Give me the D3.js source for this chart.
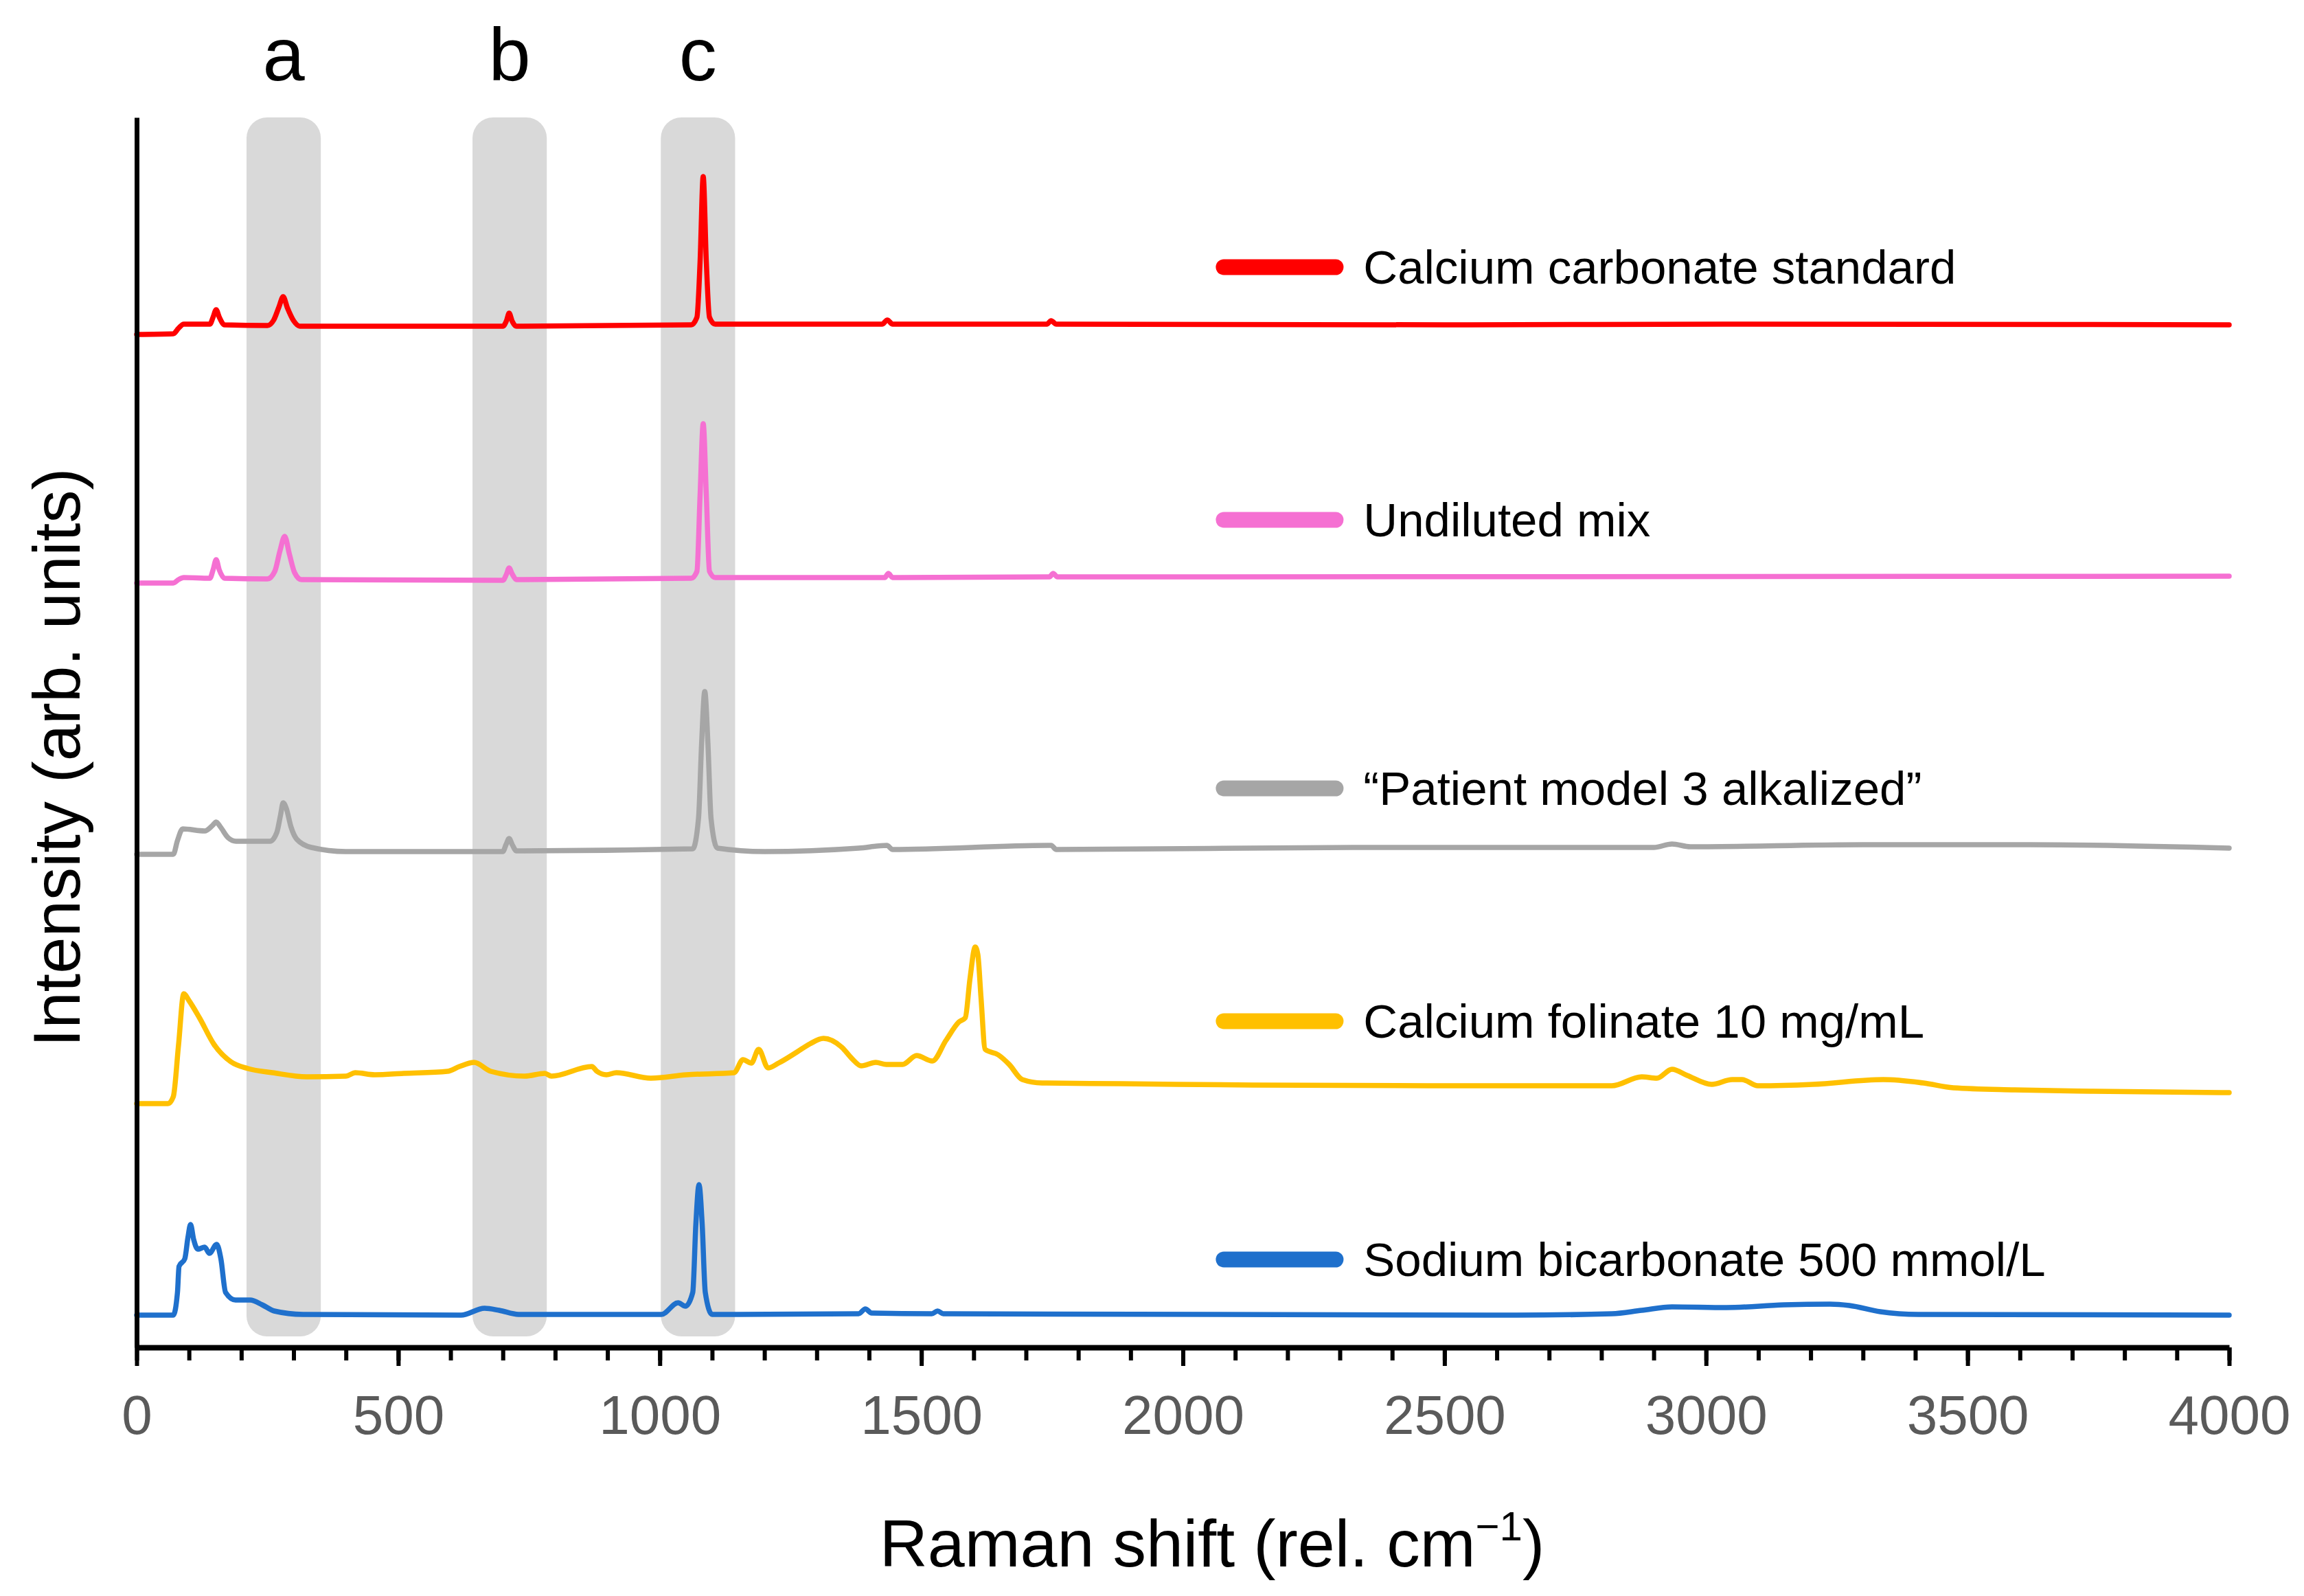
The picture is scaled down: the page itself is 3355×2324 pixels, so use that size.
<!DOCTYPE html>
<html>
<head>
<meta charset="utf-8">
<script src="https://cdn.jsdelivr.net/npm/d3@7"></script>
<style>
  html, body { margin: 0; padding: 0; background: #ffffff; }
  svg { display: block; }
  text { font-family: "Liberation Sans", Arial, Helvetica, sans-serif; }
</style>
</head>
<body>
<svg id="chart" width="3355" height="2324"></svg>
<script>
// ---------------- DATA ----------------
const seriesNames = [
  "Calcium carbonate standard",
  "Undiluted mix",
  "\u201CPatient model 3 alkalized\u201D",
  "Calcium folinate 10 mg/mL",
  "Sodium bicarbonate 500 mmol/L"
];
const seriesColors = ["#ff0000", "#f570d2", "#a6a6a6", "#ffc000", "#1f70cc"];

// [Raman shift, intensity (arb. units, stacked with offsets)]
const calciumCarbonate = [[0,1475],[70,1476],[80,1484],[90,1490],[140,1490],[146,1500],[152,1511],[158,1500],[168,1489],[250,1488],[262,1496],[272,1515],[280,1530],[288,1514],[300,1495],[312,1487],[700,1487],[707,1495],[712,1506],[718,1494],[726,1487],[1060,1489],[1071,1500],[1077,1580],[1083,1705],[1089,1580],[1095,1500],[1106,1490],[1425,1490],[1435,1496],[1445,1490],[1740,1490],[1748,1495],[1758,1490],[2500,1489],[3080,1490],[4000,1489]];
const undilutedMix = [[0,1113],[70,1113],[80,1118],[90,1121],[140,1120],[146,1132],[152,1147],[158,1132],[168,1120],[250,1119],[264,1130],[274,1160],[283,1181],[292,1155],[302,1128],[315,1118],[700,1117],[707,1126],[712,1135],[718,1126],[726,1118],[1060,1120],[1071,1130],[1077,1240],[1083,1345],[1089,1240],[1095,1130],[1106,1121],[1430,1121],[1437,1127],[1445,1121],[1745,1122],[1752,1127],[1760,1122],[4000,1123]];
const patientModel3 = [[0,718],[70,718],[78,738],[88,755],[130,752],[145,760],[152,765],[160,758],[175,742],[190,737],[255,737],[268,750],[275,775],[280,793],[286,785],[295,758],[306,740],[334,728],[400,722],[700,722],[706,732],[712,741],[718,732],[726,723],[1063,726],[1074,770],[1080,880],[1086,955],[1092,880],[1098,770],[1110,727],[1200,722],[1380,727],[1434,731],[1445,725],[1748,731],[1758,725],[2330,728],[2900,728],[2935,733],[2970,729],[3300,732],[3620,732],[4000,727]];
const calciumFolinate = [[0,355],[60,355],[70,365],[80,440],[90,515],[100,505],[120,480],[148,441],[180,416],[213,406],[260,400],[325,394],[400,395],[418,400],[455,397],[510,399],[594,402],[617,409],[645,415],[677,402],[742,395],[780,399],[793,395],[870,409],[880,402],[898,397],[917,400],[983,392],[1051,397],[1142,400],[1159,419],[1175,414],[1189,434],[1207,407],[1227,414],[1262,430],[1287,442],[1313,450],[1348,437],[1368,420],[1385,410],[1413,415],[1433,412],[1464,412],[1491,425],[1521,417],[1547,447],[1572,474],[1584,480],[1593,537],[1603,583],[1608,572],[1614,510],[1622,434],[1647,426],[1668,412],[1693,390],[1731,385],[1882,384],[2133,382],[2468,381],[2820,381],[2877,394],[2906,392],[2935,405],[2964,396],[3011,383],[3050,390],[3069,390],[3099,381],[3204,383],[3339,390],[3416,385],[3473,378],[3590,375],[3735,373],[4000,371]];
const sodiumBicarbonate = [[0,47],[70,47],[78,80],[81,118],[92,129],[98,160],[103,179],[109,157],[117,143],[130,146],[139,137],[153,150],[161,129],[170,80],[189,69],[217,69],[240,62],[263,53],[318,48],[620,47],[665,57],[693,54],[730,48],[1003,48],[1035,65],[1049,60],[1063,80],[1069,180],[1075,237],[1081,180],[1087,80],[1100,48],[1380,49],[1393,56],[1405,50],[1520,49],[1531,53],[1542,49],[2638,47],[2820,49],[2877,54],[2935,59],[3039,58],[3149,62],[3237,63],[3274,61],[3333,52],[3406,48],[4000,47]];
const seriesData = [calciumCarbonate, undilutedMix, patientModel3, calciumFolinate, sodiumBicarbonate];

// legend anchor heights (intensity units)
const legendLevels = [1573, 1205, 814, 475, 128];

// highlighted bands (Raman shift ranges) and their labels
const bandLabels = ["a", "b", "c"];
const bandRanges = [[210, 352], [642, 784], [1002, 1144]];
const bandIntensity = [16, 1791];

const xMajorTicks = [0, 500, 1000, 1500, 2000, 2500, 3000, 3500, 4000];
const xMinorTicks = d3.range(0, 4001, 100);

// ---------------- LAYOUT ----------------
const svg = d3.select("#chart");
const plot = { left: 199, right: 3246, top: 171, bottom: 1962 };

const x = d3.scaleLinear().domain([0, 4000]).range([plot.left, plot.right]);
const y = d3.scaleLinear().domain([0, 1791]).range([plot.bottom, plot.top]);

// bands
svg.append("g").selectAll("rect").data(bandRanges).join("rect")
  .attr("x", d => x(d[0]))
  .attr("width", d => x(d[1]) - x(d[0]))
  .attr("y", y(bandIntensity[1]))
  .attr("height", y(bandIntensity[0]) - y(bandIntensity[1]))
  .attr("rx", 30).attr("ry", 30)
  .attr("fill", "#d9d9d9");

// band labels
svg.append("g").selectAll("text").data(bandRanges).join("text")
  .attr("x", d => x((d[0] + d[1]) / 2))
  .attr("y", 117)
  .attr("text-anchor", "middle")
  .attr("font-size", 110)
  .attr("fill", "#000")
  .text((d, i) => bandLabels[i]);

// spectra
const line = d3.line().x(d => x(d[0])).y(d => y(d[1])).curve(d3.curveMonotoneX);
svg.append("g").selectAll("path").data(seriesData).join("path")
  .attr("d", line)
  .attr("fill", "none")
  .attr("stroke", (d, i) => seriesColors[i])
  .attr("stroke-width", 7.5)
  .attr("stroke-linejoin", "round")
  .attr("stroke-linecap", "round");

// x axis: minor ticks
const axMinor = svg.append("g").attr("transform", `translate(0,${plot.bottom})`)
  .call(d3.axisBottom(x).tickValues(xMinorTicks).tickFormat("").tickSize(19).tickSizeOuter(0));
axMinor.select(".domain").remove();
axMinor.selectAll(".tick line").attr("stroke", "#000").attr("stroke-width", 6);

// x axis: major ticks + labels
const axMajor = svg.append("g").attr("transform", `translate(0,${plot.bottom})`)
  .call(d3.axisBottom(x).tickValues(xMajorTicks).tickFormat(d3.format("d")).tickSize(27).tickPadding(42).tickSizeOuter(0));
axMajor.select(".domain").attr("stroke", "#000").attr("stroke-width", 8);
axMajor.selectAll(".tick line").attr("stroke", "#000").attr("stroke-width", 6);
axMajor.selectAll(".tick text")
  .attr("font-size", 80)
  .attr("fill", "#5a5a5a")
  .attr("font-family", "'Liberation Sans', Arial, Helvetica, sans-serif");

// y axis line only
const ay = svg.append("g").attr("transform", `translate(${plot.left},0)`)
  .call(d3.axisLeft(y).tickValues([]).tickSizeOuter(0));
ay.select(".domain").attr("stroke", "#000").attr("stroke-width", 7);

// axis titles
const xt = svg.append("text")
  .attr("x", 1765).attr("y", 2281)
  .attr("text-anchor", "middle")
  .attr("font-size", 97)
  .attr("fill", "#000");
xt.append("tspan").text("Raman shift (rel. cm");
xt.append("tspan").attr("dy", -38).attr("font-size", 60).text("\u22121");
xt.append("tspan").attr("dy", 38).text(")");

svg.append("text")
  .attr("transform", "translate(116,1103) rotate(-90)")
  .attr("text-anchor", "middle")
  .attr("font-size", 96)
  .attr("fill", "#000")
  .text("Intensity (arb. units)");

// legend
const lg = svg.append("g").selectAll("g").data(seriesNames).join("g")
  .attr("transform", (d, i) => `translate(0,${y(legendLevels[i])})`);
lg.append("line")
  .attr("x1", x(2078)).attr("x2", x(2292))
  .attr("y1", 0).attr("y2", 0)
  .attr("stroke", (d, i) => seriesColors[i])
  .attr("stroke-width", 23)
  .attr("stroke-linecap", "round");
lg.append("text")
  .attr("x", x(2345))
  .attr("dy", "0.35em")
  .attr("font-size", 69)
  .attr("fill", "#000")
  .text(d => d);
</script>
</body>
</html>
